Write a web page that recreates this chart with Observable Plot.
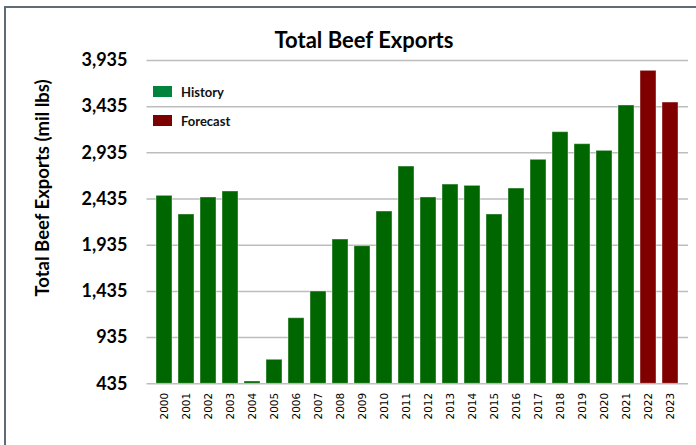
<!DOCTYPE html>
<html><head><meta charset="utf-8">
<script src="https://cdn.jsdelivr.net/npm/d3@7"></script>
<script src="https://cdn.jsdelivr.net/npm/@observablehq/plot@0.6"></script>
<style>
body{margin:0;background:#fff;}
#wrap{position:relative;width:696px;height:445px;overflow:hidden;font-family:Lato,sans-serif;}
#frame{position:absolute;left:4px;top:6px;width:800px;height:800px;border-left:2.5px solid #5f6b75;border-top:2.5px solid #5f6b75;}
.lg{position:absolute;left:153px;width:19px;height:11px;}
.lt{position:absolute;left:181px;font:bold 13px Lato,sans-serif;color:#111;line-height:14px;}
</style></head><body><div id="wrap"><div id="frame"></div></div>
<script>
const years = ["2000","2001","2002","2003","2004","2005","2006","2007","2008","2009","2010","2011","2012","2013","2014","2015","2016","2017","2018","2019","2020","2021","2022","2023"];
const exportsMilLbs = [2470,2268,2452,2517,460,695,1145,1434,1997,1925,2300,2787,2452,2592,2578,2268,2549,2860,3159,3029,2957,3448,3823,3480];
const seriesType = ["History","History","History","History","History","History","History","History","History","History","History","History","History","History","History","History","History","History","History","History","History","History","Forecast","Forecast"];
const yTicks = [435,935,1435,1935,2435,2935,3435,3935];
const legendLabels = ["History","Forecast"];
const barColors = ["#006600","#800000"];
const legendColors = ["#00843D","#7B0000"];
const titleText = "Total Beef Exports";
const yLabelText = "Total Beef Exports (mil lbs)";

const data = years.map((y,i)=>({year:y,value:exportsMilLbs[i],type:seriesType[i]}));

const chart = Plot.plot({
  width:696, height:445,
  marginLeft:146.5, marginRight:8, marginTop:60, marginBottom:61.7,
  style:{fontFamily:"Lato, sans-serif", background:"transparent", overflow:"visible"},
  x:{domain:years, paddingInner:0.29, paddingOuter:0.145, label:null},
  y:{domain:[435,3935], label:null},
  color:{domain:legendLabels, range:barColors},
  marks:[
    Plot.ruleY(yTicks,{stroke:"#bdbdbd",strokeWidth:1.5}),
    Plot.barY(data,{x:"year",y1:435,y2:"value",fill:"type",stroke:"#ffffff",strokeOpacity:0.4,strokeWidth:1}),
    Plot.axisY(yTicks,{tickSize:0,tickPadding:19.5,tickFormat:d3.format(","),fontSize:18,fontWeight:"bold",label:null}),
    Plot.axisX({tickSize:0,tickRotate:-90,tickPadding:9,fontSize:10.5,fontFamily:"DejaVu Sans",label:null})
  ]
});
const wrap = document.getElementById("wrap");
chart.style.position="absolute"; chart.style.left="0"; chart.style.top="0";
wrap.appendChild(chart);

const svg = d3.select(chart);
svg.append("text").attr("x",364).attr("y",47.7).attr("text-anchor","middle")
  .attr("font-family","Lato, sans-serif").attr("font-weight","bold").attr("font-size",22).attr("fill","#000").text(titleText);
svg.append("text").attr("transform","translate(49,188) rotate(-90)").attr("text-anchor","middle")
  .attr("font-family","Lato, sans-serif").attr("font-weight","bold").attr("font-size",18.5).attr("fill","#000").text(yLabelText);

const legendTops = [86,115];
legendLabels.forEach((l,i)=>{
  const sw=document.createElement("div"); sw.className="lg"; sw.style.top=legendTops[i]+"px"; sw.style.background=legendColors[i]; wrap.appendChild(sw);
  const t=document.createElement("div"); t.className="lt"; t.style.top=(legendTops[i]-1.5)+"px"; t.textContent=l; wrap.appendChild(t);
});
</script></body></html>
